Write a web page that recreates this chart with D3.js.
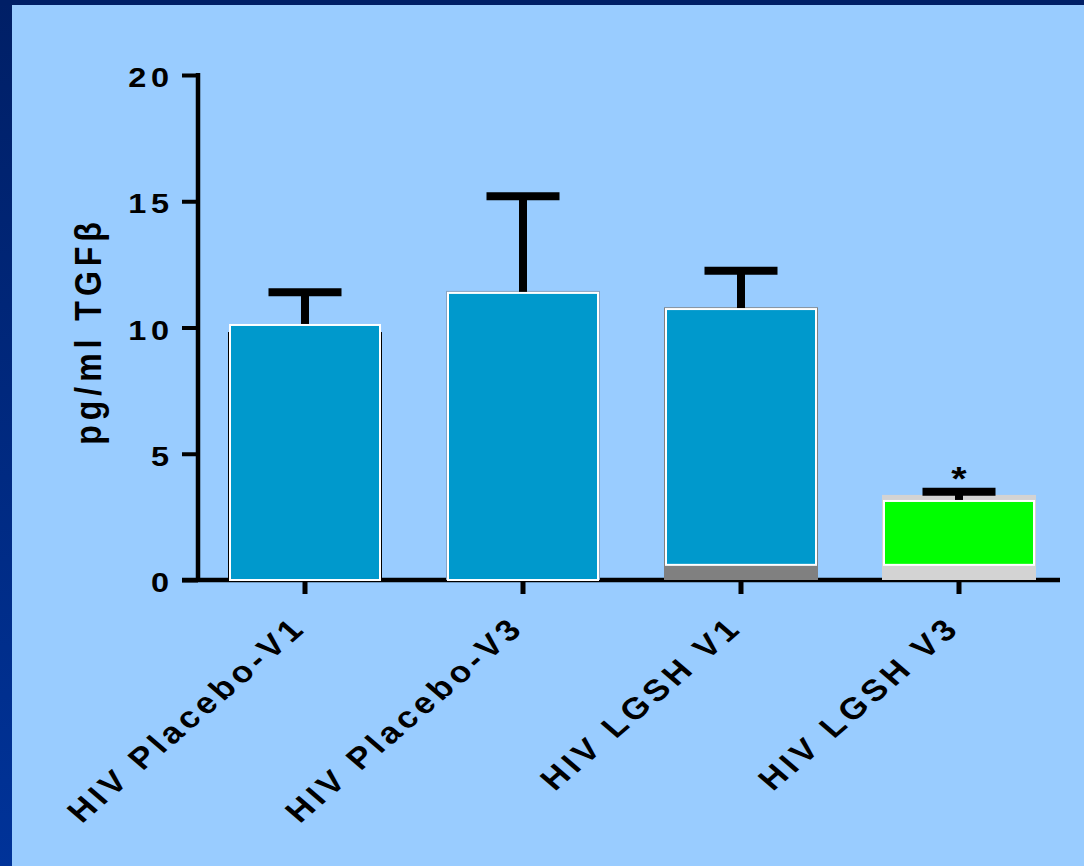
<!DOCTYPE html>
<html>
<head>
<meta charset="utf-8">
<script src="https://cdn.jsdelivr.net/npm/d3@7"></script>
<style>
  html, body { margin: 0; padding: 0; background: #99ccff; }
  svg { display: block; }
  text { font-family: "Liberation Sans", Arial, Helvetica, sans-serif; font-weight: bold; fill: #000; }
</style>
</head>
<body>
<svg id="chart" width="1084" height="866"></svg>
<script>
// Groups along the x axis
const categories = ["HIV Placebo-V1", "HIV Placebo-V3", "HIV LGSH V1", "HIV LGSH V3"];
// Mean TGF-beta (pg/ml): top of the front bars
const meanValues = [10.1, 11.37, 10.73, 3.13];
// Floor of the front bars (the LGSH bars sit slightly above zero)
const floorValues = [0, 0, 0.6, 0.6];
// Underlying bars drawn behind the front bars
const backValues = [9.82, 11.45, 10.8, 3.37];
// Upper end of the error bars
const errorUpper = [11.4, 15.2, 12.25, 3.5];
// Significance marks above the error bars
const marks = ["", "", "", "*"];
// Y axis ticks
const yTicks = [0, 5, 10, 15, 20];

const frontFill = ["#0099cc", "#0099cc", "#0099cc", "#00ff00"];
const backFill = ["#000000", "#86a4c4", "#808080", "#d3d3d3"];

const W = 1084, H = 866;
const svg = d3.select("#chart");
const stretch = 1.16;   // horizontal stretch of all lettering

// Slide frame: dark band on top, gradient band on the left
const defs = svg.append("defs");
const grad = defs.append("linearGradient").attr("id", "sideBand")
  .attr("x1", 0).attr("y1", 0).attr("x2", 0).attr("y2", 1);
grad.append("stop").attr("offset", "0%").attr("stop-color", "#001f66");
grad.append("stop").attr("offset", "100%").attr("stop-color", "#003399");

svg.append("rect").attr("width", W).attr("height", H).attr("fill", "#99ccff");
svg.append("rect").attr("x", 0).attr("y", 0).attr("width", 12).attr("height", H).attr("fill", "url(#sideBand)");
svg.append("rect").attr("x", 0).attr("y", 0).attr("width", W).attr("height", 5).attr("fill", "#001f66");

// Scales
const x = d3.scaleBand().domain(categories).range([196, 1068]).padding(0);
const y = d3.scaleLinear().domain([0, 20]).range([580, 75]);
const cx = c => x(c) + x.bandwidth() / 2;

const backW = 154, frontW = 150, capW = 73;

// Y axis
const yAxis = svg.append("g").attr("transform", "translate(198,0)")
  .call(d3.axisLeft(y).tickValues(yTicks).tickSize(16).tickSizeOuter(0).tickFormat(""));
yAxis.select(".domain").attr("stroke", "#000").attr("stroke-width", 4.5)
  .attr("d", `M0,${y(20) - 2}V${y(0) + 2}`);
yAxis.selectAll(".tick line").attr("stroke", "#000").attr("stroke-width", 4);

// Y tick labels
svg.append("g").selectAll("g").data(yTicks).join("g")
  .attr("transform", d => `translate(${169 + 4 * stretch},${y(d) + 12}) scale(${stretch},1)`)
  .append("text")
  .attr("text-anchor", "end")
  .attr("font-size", 28)
  .attr("letter-spacing", 4)
  .text(d => d);

// X axis line and ticks
svg.append("line").attr("x1", 182).attr("x2", 1060).attr("y1", y(0)).attr("y2", y(0))
  .attr("stroke", "#000").attr("stroke-width", 4.5);
svg.append("g").selectAll("line").data(categories).join("line")
  .attr("x1", cx).attr("x2", cx).attr("y1", y(0)).attr("y2", y(0) + 14)
  .attr("stroke", "#000").attr("stroke-width", 5);

// Back bars
svg.append("g").selectAll("rect").data(categories).join("rect")
  .attr("x", d => cx(d) - backW / 2)
  .attr("width", backW)
  .attr("y", (d, i) => y(backValues[i]))
  .attr("height", (d, i) => y(0) - y(backValues[i]))
  .attr("fill", (d, i) => backFill[i]);

// Error bars: stem from the mean up to a flat cap
const err = svg.append("g").attr("stroke", "#000");
err.selectAll("line.stem").data(categories).join("line").attr("class", "stem")
  .attr("x1", cx).attr("x2", cx)
  .attr("y1", (d, i) => y(meanValues[i]))
  .attr("y2", (d, i) => y(errorUpper[i]))
  .attr("stroke-width", 8);
err.selectAll("line.cap").data(categories).join("line").attr("class", "cap")
  .attr("x1", d => cx(d) - capW / 2).attr("x2", d => cx(d) + capW / 2)
  .attr("y1", (d, i) => y(errorUpper[i]))
  .attr("y2", (d, i) => y(errorUpper[i]))
  .attr("stroke-width", 8);

// Front bars with white outline
svg.append("g").selectAll("rect").data(categories).join("rect")
  .attr("x", d => cx(d) - frontW / 2)
  .attr("width", frontW)
  .attr("y", (d, i) => y(meanValues[i]))
  .attr("height", (d, i) => y(floorValues[i]) - y(meanValues[i]))
  .attr("fill", (d, i) => frontFill[i])
  .attr("stroke", "#ffffff")
  .attr("stroke-width", 2);

// Significance marks
svg.append("g").selectAll("g").data(categories).join("g")
  .attr("transform", (d, i) => `translate(${cx(d)},${y(errorUpper[i]) - 2}) scale(${stretch},1)`)
  .append("text")
  .attr("text-anchor", "middle")
  .attr("font-size", 34)
  .text((d, i) => marks[i]);

// X tick labels, slanted
svg.append("g").selectAll("g").data(categories).join("g")
  .attr("transform", d => `translate(${cx(d) + 3},${y(0) + 49}) scale(${stretch},1) rotate(-45)`)
  .append("text")
  .attr("text-anchor", "end")
  .attr("font-size", 30)
  .attr("letter-spacing", 4)
  .text(d => d);

// Y axis title
svg.append("g")
  .attr("transform", `translate(101,331) scale(${stretch},1) rotate(-90)`)
  .append("text")
  .attr("text-anchor", "middle")
  .attr("font-size", 32)
  .attr("letter-spacing", 5)
  .text("pg/ml TGFβ");
</script>
</body>
</html>
